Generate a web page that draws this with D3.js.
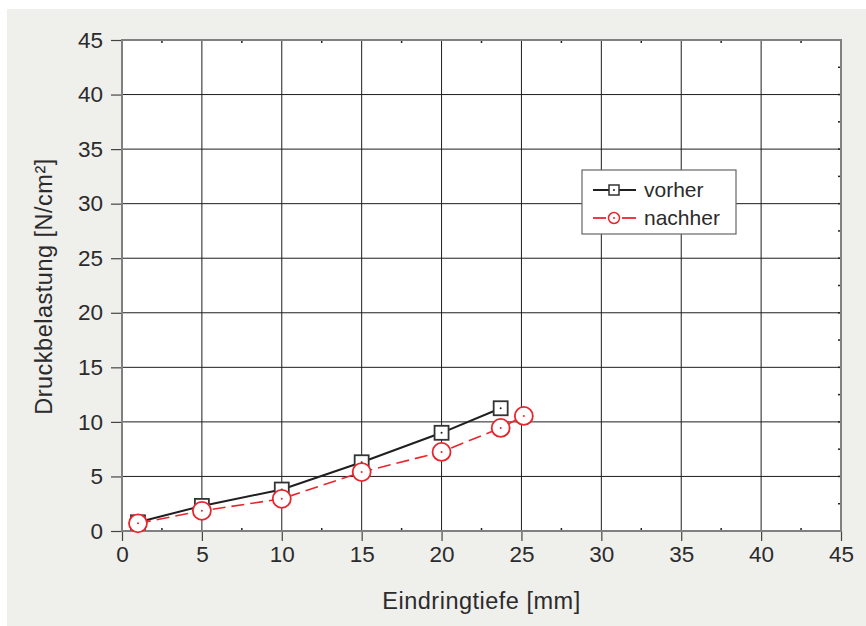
<!DOCTYPE html>
<html><head><meta charset="utf-8">
<script src="https://cdn.jsdelivr.net/npm/d3@7"></script>
<style>
html,body{margin:0;padding:0;background:#fff;}
svg{display:block;}
text{font-family:"Liberation Sans",Arial,Helvetica,sans-serif;fill:#2b2b2b;}
</style></head>
<body>
<svg id="chart" width="866" height="626"></svg>
<script>
const vorherX = [1, 5, 10, 15, 20, 23.7];
const vorherY = [0.8, 2.3, 3.8, 6.3, 9.0, 11.25];
const nachherX = [1, 5, 10, 15, 20, 23.7, 25.15];
const nachherY = [0.7, 1.85, 2.95, 5.4, 7.25, 9.45, 10.55];
const xTicks = [0,5,10,15,20,25,30,35,40,45];
const yTicks = [0,5,10,15,20,25,30,35,40,45];
const minorTicks = [2.5,7.5,12.5,17.5,22.5,27.5,32.5,37.5,42.5];
const seriesNames = ["vorher","nachher"];

const svg = d3.select("#chart");
const L=122, R=841, T=40, B=531;
const x = d3.scaleLinear().domain([0,45]).range([L,R]);
const y = d3.scaleLinear().domain([0,45]).range([B,T]);

svg.append("rect").attr("x",7).attr("y",9).attr("width",859).attr("height",617).attr("fill","#efefeb");
svg.append("rect").attr("x",L).attr("y",T).attr("width",R-L).attr("height",B-T).attr("fill","#fff");

// grid
const g = svg.append("g");
g.selectAll("line.vx").data(xTicks.slice(1,-1)).join("line")
 .attr("x1",d=>x(d)).attr("x2",d=>x(d)).attr("y1",T).attr("y2",B)
 .attr("stroke","#1e1e1e").attr("stroke-width",1);
g.selectAll("line.hy").data(yTicks.slice(1,-1)).join("line")
 .attr("y1",d=>y(d)).attr("y2",d=>y(d)).attr("x1",L).attr("x2",R)
 .attr("stroke","#1e1e1e").attr("stroke-width",1);

// axes
const xAxis = d3.axisBottom(x).tickValues(xTicks).tickSize(10).tickPadding(5).tickFormat(d3.format("d"));
const yAxis = d3.axisLeft(y).tickValues(yTicks).tickSize(11).tickPadding(8).tickFormat(d3.format("d"));
const gx = svg.append("g").attr("transform",`translate(0,${B})`).call(xAxis);
const gy = svg.append("g").attr("transform",`translate(${L},0)`).call(yAxis);
[gx,gy].forEach(a=>{
  a.select(".domain").remove();
  a.selectAll(".tick line").attr("stroke","#444").attr("stroke-width",1.2);
  a.selectAll(".tick text").style("font-size","22.5px").style("font-family","'Liberation Sans',Arial,sans-serif").attr("fill","#2b2b2b");
});
// minor inward ticks
const mt = svg.append("g").attr("stroke","#222").attr("stroke-width",1.5);
minorTicks.forEach(v=>{
  mt.append("line").attr("x1",x(v)).attr("x2",x(v)).attr("y1",B).attr("y2",B-3);
  mt.append("line").attr("x1",x(v)).attr("x2",x(v)).attr("y1",T).attr("y2",T+3);
  mt.append("line").attr("y1",y(v)).attr("y2",y(v)).attr("x1",R).attr("x2",R-3);
});
yTicks.slice(1,-1).forEach(v=>{
  mt.append("line").attr("y1",y(v)).attr("y2",y(v)).attr("x1",R).attr("x2",R-3);
});

// frame
svg.append("rect").attr("x",L).attr("y",T).attr("width",R-L).attr("height",B-T)
 .attr("fill","none").attr("stroke","#808080").attr("stroke-width",2);

// axis titles
svg.append("text").attr("x",(L+R)/2).attr("y",609).attr("text-anchor","middle")
 .style("font-size","23.5px").style("letter-spacing","0.5px").text("Eindringtiefe [mm]");
svg.append("text").attr("transform",`translate(52,${(T+B)/2+1}) rotate(-90)`).attr("text-anchor","middle")
 .style("font-size","23.5px").style("letter-spacing","0.5px").text("Druckbelastung [N/cm²]");

const black="#1f1f1f", red="#e8262d";
const vData = vorherX.map((d,i)=>[d,vorherY[i]]);
const nData = nachherX.map((d,i)=>[d,nachherY[i]]);
const line = d3.line().x(d=>x(d[0])).y(d=>y(d[1]));

svg.append("path").datum(vData).attr("d",line).attr("fill","none").attr("stroke",black).attr("stroke-width",2);
svg.selectAll("rect.sq").data(vData).join("rect").attr("class","sq")
 .attr("x",d=>x(d[0])-7).attr("y",d=>y(d[1])-7).attr("width",14).attr("height",14)
 .attr("fill","#fff").attr("stroke","#333").attr("stroke-width",1.8);
svg.selectAll("circle.sqd").data(vData).join("circle").attr("class","sqd")
 .attr("cx",d=>x(d[0])).attr("cy",d=>y(d[1])).attr("r",1).attr("fill",black);

svg.append("path").datum(nData).attr("d",line).attr("fill","none").attr("stroke",red).attr("stroke-width",1.6).attr("stroke-dasharray","13,6");
svg.selectAll("circle.ci").data(nData).join("circle").attr("class","ci")
 .attr("cx",d=>x(d[0])).attr("cy",d=>y(d[1])).attr("r",9)
 .attr("fill","#fff").attr("stroke",red).attr("stroke-width",1.8);
svg.selectAll("circle.cid").data(nData).join("circle").attr("class","cid")
 .attr("cx",d=>x(d[0])).attr("cy",d=>y(d[1])).attr("r",1).attr("fill",red);

// legend
const lg = svg.append("g");
lg.append("rect").attr("x",582).attr("y",170).attr("width",154).attr("height",64)
 .attr("fill","#fff").attr("stroke","#666").attr("stroke-width",1.2);
const ly=[190,218];
lg.append("line").attr("x1",593).attr("x2",636).attr("y1",ly[0]).attr("y2",ly[0]).attr("stroke",black).attr("stroke-width",2);
lg.append("rect").attr("x",609).attr("y",ly[0]-5).attr("width",10).attr("height",10).attr("fill","#fff").attr("stroke","#333").attr("stroke-width",1.5);
lg.append("circle").attr("cx",614).attr("cy",ly[0]).attr("r",1).attr("fill",black);
lg.append("line").attr("x1",593).attr("x2",606).attr("y1",ly[1]).attr("y2",ly[1]).attr("stroke",red).attr("stroke-width",1.8);
lg.append("line").attr("x1",622).attr("x2",636).attr("y1",ly[1]).attr("y2",ly[1]).attr("stroke",red).attr("stroke-width",1.8);
lg.append("circle").attr("cx",614).attr("cy",ly[1]).attr("r",5.5).attr("fill","#fff").attr("stroke",red).attr("stroke-width",1.5);
lg.append("circle").attr("cx",614).attr("cy",ly[1]).attr("r",1).attr("fill",red);
lg.selectAll("text.lt").data(seriesNames).join("text").attr("class","lt")
 .attr("x",644).attr("y",(d,i)=>ly[i]+7).style("font-size","21px").text(d=>d);
</script>
</body></html>
